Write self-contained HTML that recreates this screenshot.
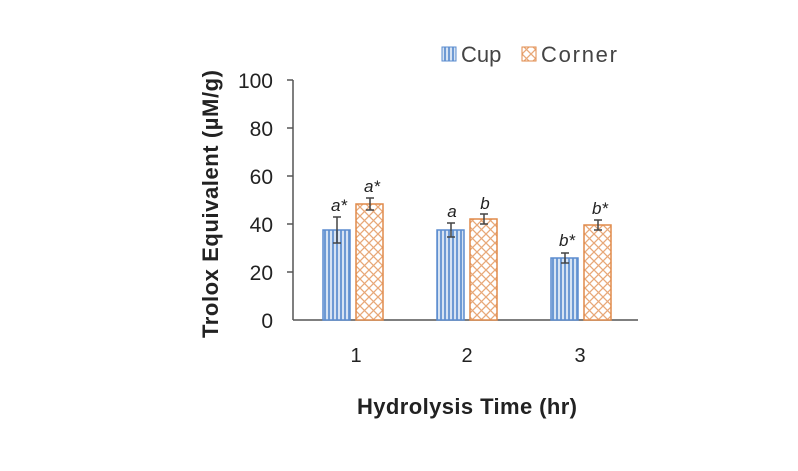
<!DOCTYPE html>
<html><head><meta charset="utf-8"><style>body{margin:0;background:#fff}svg{display:block}</style></head><body>
<svg width="798" height="471" xmlns="http://www.w3.org/2000/svg" font-family="Liberation Sans, sans-serif">
<defs>
<pattern id="v" width="4" height="10" patternUnits="userSpaceOnUse"><rect width="4" height="10" fill="#d6e3f3"/><rect width="2" height="10" fill="#6e9ad4"/></pattern>
<pattern id="x" width="9" height="9" patternUnits="userSpaceOnUse"><rect width="9" height="9" fill="#fff"/><path d="M0 0L9 9M9 0L0 9" stroke="#e8a878" stroke-width="1.3"/></pattern>
</defs>
<g stroke="#555" stroke-width="1.5">
<line x1="293" y1="80" x2="293" y2="320"/><line x1="293" y1="320" x2="638" y2="320"/>
<line x1="287" y1="80" x2="293" y2="80"/><line x1="287" y1="128" x2="293" y2="128"/><line x1="287" y1="176" x2="293" y2="176"/><line x1="287" y1="224" x2="293" y2="224"/><line x1="287" y1="272" x2="293" y2="272"/>
</g>
<g font-size="21" fill="#222" text-anchor="end">
<text x="273" y="88">100</text><text x="273" y="136">80</text><text x="273" y="184">60</text><text x="273" y="232">40</text><text x="273" y="280">20</text><text x="273" y="328">0</text>
</g>
<g font-size="20" fill="#222" text-anchor="middle"><text x="356" y="362">1</text><text x="467" y="362">2</text><text x="580" y="362">3</text></g>
<g stroke-width="1.5">
<rect x="323" y="230" width="27" height="90" fill="url(#v)" stroke="#5b8ccf"/>
<rect x="356" y="204" width="27" height="116" fill="url(#x)" stroke="#e08a4a"/>
<rect x="437" y="230" width="27" height="90" fill="url(#v)" stroke="#5b8ccf"/>
<rect x="470" y="219" width="27" height="101" fill="url(#x)" stroke="#e08a4a"/>
<rect x="551" y="258" width="27" height="62" fill="url(#v)" stroke="#5b8ccf"/>
<rect x="584" y="225" width="27" height="95" fill="url(#x)" stroke="#e08a4a"/>
</g>
<g stroke="#444" stroke-width="1.5">
<path d="M337 217V243M333 217H341M333 243H341"/>
<path d="M370 198V210M366 198H374M366 210H374"/>
<path d="M451 223V237M447 223H455M447 237H455"/>
<path d="M484 214V224M480 214H488M480 224H488"/>
<path d="M565 253V263M561 253H569M561 263H569"/>
<path d="M598 220V230M594 220H602M594 230H602"/>
</g>
<g font-size="17" font-style="italic" fill="#222" text-anchor="middle">
<text x="339" y="211">a*</text><text x="372" y="192">a*</text><text x="452" y="217">a</text><text x="485" y="209">b</text><text x="567" y="246">b*</text><text x="600" y="214">b*</text>
</g>
<text x="467" y="414" font-size="22" font-weight="bold" fill="#222" text-anchor="middle" textLength="220">Hydrolysis Time (hr)</text>
<text transform="translate(218,204) rotate(-90)" font-size="22" font-weight="bold" fill="#222" text-anchor="middle" textLength="268">Trolox Equivalent (µM/g)</text>
<rect x="442" y="47" width="14" height="14" fill="url(#v)" stroke="#5b8ccf"/>
<text x="461" y="62" font-size="22" fill="#444">Cup</text>
<rect x="522" y="47" width="14" height="14" fill="url(#x)" stroke="#e08a4a"/>
<text x="541" y="62" font-size="22" fill="#444" textLength="76">Corner</text>
</svg>
</body></html>
